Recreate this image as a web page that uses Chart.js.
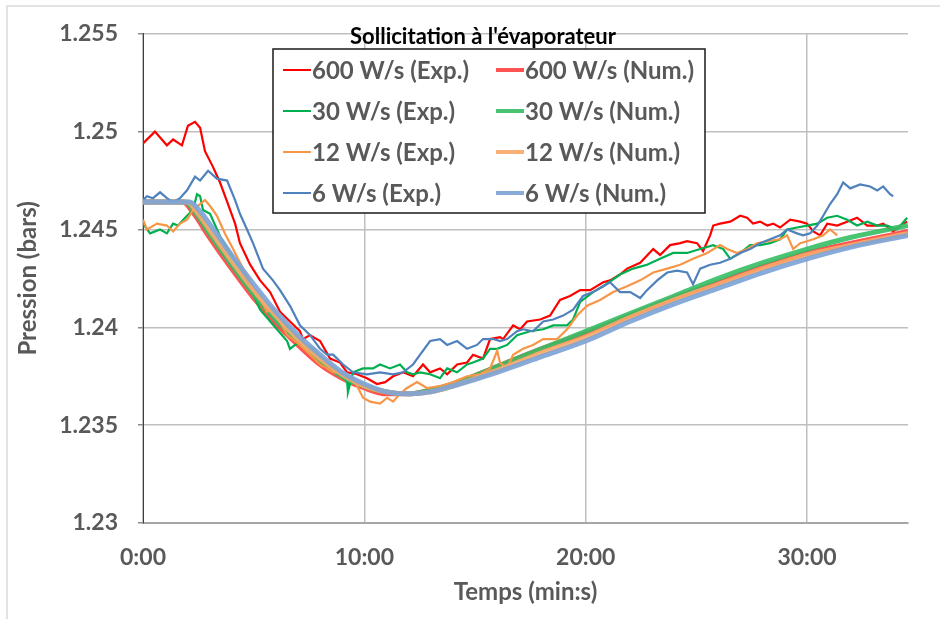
<!DOCTYPE html>
<html>
<head>
<meta charset="utf-8">
<script src="https://cdn.jsdelivr.net/npm/chart.js@4"></script>
<style>
  html, body { margin: 0; padding: 0; background: #fff; }
  .chartBox { width: 940px; height: 619px; position: relative; }
</style>
</head>
<body>
<div class="chartBox"><canvas id="chart"></canvas></div>
<script>
// temps en minutes, pression en bars
const exp600T = [0, 0.54, 1.08, 1.36, 1.76, 2.03, 2.35, 2.58, 2.80, 3.16, 3.48, 3.84, 4.16, 4.38, 4.84, 5.29, 5.74, 6.19, 6.64, 7.09, 7.23, 7.55, 8.00, 8.45, 8.90, 9.22, 9.67, 10.12, 10.57, 10.94, 11.30, 11.75, 12.20, 12.65, 12.97, 13.42, 13.74, 14.19, 14.64, 14.91, 15.36, 15.68, 16.13, 16.27, 16.72, 17.04, 17.35, 17.94, 18.39, 18.84, 19.29, 19.75, 20.20, 20.79, 21.10, 21.55, 21.87, 22.46, 23.05, 23.36, 23.81, 24.27, 24.58, 25.03, 25.30, 25.62, 25.76, 26.07, 26.53, 26.98, 27.29, 27.56, 27.88, 28.20, 28.47, 28.78, 29.24, 29.69, 30.00, 30.28, 30.59, 30.91, 31.36, 31.81, 32.26, 32.72, 33.17, 33.44, 33.89, 34.21, 34.52];
const exp600P = [1.2494, 1.2500, 1.2493, 1.2496, 1.2493, 1.2503, 1.2505, 1.2502, 1.2490, 1.2482, 1.2474, 1.2463, 1.2453, 1.2443, 1.2432, 1.2424, 1.2418, 1.2408, 1.2403, 1.2398, 1.2394, 1.2396, 1.2393, 1.2384, 1.2382, 1.2377, 1.2376, 1.2374, 1.2371, 1.2372, 1.2375, 1.2377, 1.2375, 1.2381, 1.2377, 1.2379, 1.2376, 1.2381, 1.2382, 1.2386, 1.2384, 1.2394, 1.2395, 1.2394, 1.2401, 1.2399, 1.2403, 1.2404, 1.2406, 1.2414, 1.2416, 1.2419, 1.2419, 1.2423, 1.2424, 1.2427, 1.2430, 1.2433, 1.2440, 1.2437, 1.2442, 1.2443, 1.2444, 1.2443, 1.2439, 1.2447, 1.2452, 1.2453, 1.2454, 1.2457, 1.2456, 1.2453, 1.2454, 1.2452, 1.2453, 1.2451, 1.2455, 1.2454, 1.2453, 1.2449, 1.2447, 1.2453, 1.2452, 1.2454, 1.2456, 1.2452, 1.2452, 1.2453, 1.2449, 1.2452, 1.2454];

const exp30T = [0, 0.32, 0.77, 1.08, 1.36, 1.58, 1.99, 2.26, 2.44, 2.58, 2.71, 3.03, 3.5, 4.0, 4.52, 5.29, 6.05, 6.51, 6.64, 7.09, 7.68, 8.31, 8.90, 9.22, 9.26, 9.49, 9.94, 10.39, 10.71, 11.16, 11.61, 11.93, 12.20, 12.52, 12.97, 13.42, 13.74, 14.19, 14.64, 14.91, 15.36, 15.68, 16.00, 16.45, 16.90, 17.49, 18.08, 18.53, 19.16, 19.43, 19.75, 20.33, 20.79, 21.55, 22.14, 22.77, 23.36, 23.95, 24.58, 25.17, 25.76, 26.21, 26.53, 26.66, 26.98, 27.43, 27.88, 28.33, 28.78, 29.10, 29.55, 30.00, 30.46, 30.91, 31.36, 31.81, 32.26, 32.72, 33.17, 33.62, 34.07, 34.52];
const exp30P = [1.2453, 1.2448, 1.2450, 1.2448, 1.2453, 1.2452, 1.2457, 1.2460, 1.2468, 1.2467, 1.2460, 1.2458, 1.2446, 1.2437, 1.2428, 1.2409, 1.2399, 1.2393, 1.2389, 1.2393, 1.2389, 1.2382, 1.2377, 1.2372, 1.2367, 1.2377, 1.2379, 1.2379, 1.2381, 1.2379, 1.2381, 1.2377, 1.2376, 1.2377, 1.2376, 1.2374, 1.2379, 1.2377, 1.2381, 1.2382, 1.2384, 1.2389, 1.2389, 1.2391, 1.2396, 1.2398, 1.2399, 1.2401, 1.2401, 1.2404, 1.2413, 1.2418, 1.2421, 1.2427, 1.2430, 1.2432, 1.2435, 1.2438, 1.2438, 1.2440, 1.2442, 1.2440, 1.2435, 1.2436, 1.2438, 1.2442, 1.2442, 1.2443, 1.2445, 1.2450, 1.2451, 1.2452, 1.2453, 1.2456, 1.2457, 1.2455, 1.2452, 1.2454, 1.2452, 1.2452, 1.2450, 1.2456];

const exp12T = [0, 0.18, 0.63, 1.08, 1.36, 1.67, 1.99, 2.26, 2.58, 2.80, 3.03, 3.34, 3.7, 4.07, 4.52, 4.97, 5.42, 5.60, 5.87, 6.51, 7.09, 7.55, 8.00, 8.31, 8.59, 8.90, 9.49, 9.94, 10.26, 10.71, 11.03, 11.30, 11.61, 11.93, 12.38, 12.83, 13.42, 14.01, 14.64, 15.23, 15.68, 16.00, 16.13, 16.45, 16.72, 17.17, 17.62, 18.08, 18.71, 19.16, 19.61, 20.06, 20.65, 21.24, 21.87, 22.46, 23.05, 23.68, 24.27, 24.85, 25.49, 26.07, 26.39, 26.84, 27.29, 27.74, 28.20, 28.78, 29.10, 29.37, 29.69, 30.00, 30.28, 30.73, 31.04, 31.36];
const exp12P = [1.2455, 1.2450, 1.2453, 1.2452, 1.2449, 1.2453, 1.2455, 1.2460, 1.2463, 1.2465, 1.2462, 1.2457, 1.2448, 1.2440, 1.2430, 1.2421, 1.2412, 1.2408, 1.2410, 1.2396, 1.2391, 1.2386, 1.2381, 1.2379, 1.2377, 1.2377, 1.2374, 1.2364, 1.2362, 1.2361, 1.2364, 1.2362, 1.2366, 1.2369, 1.2372, 1.2369, 1.2370, 1.2372, 1.2375, 1.2376, 1.2379, 1.2388, 1.2382, 1.2379, 1.2386, 1.2389, 1.2391, 1.2394, 1.2394, 1.2399, 1.2406, 1.2411, 1.2414, 1.2418, 1.2421, 1.2424, 1.2428, 1.2430, 1.2432, 1.2435, 1.2438, 1.2442, 1.2440, 1.2438, 1.2440, 1.2443, 1.2444, 1.2445, 1.2447, 1.2440, 1.2443, 1.2444, 1.2445, 1.2447, 1.2450, 1.2447];

const exp6T = [0, 0.18, 0.45, 0.77, 1.08, 1.36, 1.67, 1.99, 2.35, 2.58, 2.94, 3.34, 3.80, 4.16, 4.38, 4.70, 4.97, 5.42, 5.87, 6.19, 6.64, 7.09, 7.55, 8.00, 8.31, 8.59, 9.04, 9.49, 10.12, 10.71, 11.30, 11.75, 12.20, 12.52, 12.97, 13.42, 13.74, 14.19, 14.64, 15.09, 15.36, 15.82, 16.13, 16.45, 16.90, 17.17, 17.62, 18.08, 18.53, 18.98, 19.43, 19.88, 20.33, 20.79, 21.10, 21.55, 22.01, 22.46, 22.77, 23.23, 23.68, 24.13, 24.58, 24.85, 25.17, 25.62, 26.07, 26.53, 26.98, 27.43, 27.88, 28.33, 28.78, 29.10, 29.55, 29.82, 30.14, 30.46, 30.73, 31.04, 31.36, 31.63, 31.95, 32.40, 32.85, 33.17, 33.44, 33.75, 33.89];
const exp6P = [1.2465, 1.2467, 1.2466, 1.2469, 1.2466, 1.2464, 1.2466, 1.2470, 1.2477, 1.2475, 1.2480, 1.2476, 1.2475, 1.2465, 1.2458, 1.2450, 1.2443, 1.2430, 1.2424, 1.2419, 1.2411, 1.2401, 1.2396, 1.2389, 1.2386, 1.2386, 1.2381, 1.2377, 1.2376, 1.2377, 1.2376, 1.2377, 1.2381, 1.2386, 1.2393, 1.2394, 1.2391, 1.2393, 1.2389, 1.2391, 1.2394, 1.2394, 1.2393, 1.2394, 1.2398, 1.2399, 1.2398, 1.2403, 1.2404, 1.2406, 1.2409, 1.2416, 1.2418, 1.2421, 1.2423, 1.2418, 1.2418, 1.2415, 1.2419, 1.2424, 1.2428, 1.2429, 1.2428, 1.2422, 1.2430, 1.2432, 1.2433, 1.2435, 1.2438, 1.2440, 1.2443, 1.2445, 1.2447, 1.2450, 1.2448, 1.2447, 1.2448, 1.2452, 1.2457, 1.2463, 1.2468, 1.2474, 1.2471, 1.2473, 1.2472, 1.2470, 1.2472, 1.2468, 1.2467];

const numT600 = [0, 1.8, 2.3, 3, 4, 5, 6, 7, 8, 9, 10, 11, 12, 13, 14, 16, 18, 20, 22, 24, 26, 28, 30, 32, 34.56];
const num600P = [1.2464, 1.2464, 1.2458, 1.2446, 1.2430, 1.2415, 1.2402, 1.2391, 1.2381, 1.2374, 1.2369, 1.2366, 1.2366, 1.2368, 1.2371, 1.2380, 1.2389, 1.2397, 1.2406, 1.2415, 1.2423, 1.2431, 1.2438, 1.2443, 1.2449];
const numT30 = [0, 1.9, 2.4, 3, 4, 5, 6, 7, 8, 9, 10, 11, 12, 13, 14, 16, 18, 20, 22, 24, 26, 28, 30, 32, 34.56];
const num30P = [1.2464, 1.2464, 1.2458, 1.2448, 1.2432, 1.2417, 1.2404, 1.2393, 1.2383, 1.2375, 1.2370, 1.2367, 1.2366, 1.2368, 1.2371, 1.2380, 1.2389, 1.2398, 1.2407, 1.2416, 1.2425, 1.2433, 1.2440, 1.2446, 1.2452];
const numT12 = [0, 2.0, 2.5, 3, 4, 5, 6, 7, 8, 9, 10, 11, 12, 13, 14, 16, 18, 20, 22, 24, 26, 28, 30, 32, 34.56];
const num12P = [1.2464, 1.2464, 1.2458, 1.2450, 1.2434, 1.2419, 1.2406, 1.2394, 1.2384, 1.2376, 1.2370, 1.2367, 1.2366, 1.2367, 1.2370, 1.2378, 1.2387, 1.2395, 1.2405, 1.2414, 1.2422, 1.2430, 1.2437, 1.2442, 1.2448];
const numT6 = [0, 2.1, 2.6, 3, 4, 5, 6, 7, 8, 9, 10, 11, 12, 13, 14, 16, 18, 20, 22, 24, 26, 28, 30, 32, 34.56];
const num6P = [1.2464, 1.2464, 1.2459, 1.2453, 1.2437, 1.2422, 1.2408, 1.2396, 1.2386, 1.2377, 1.2371, 1.2367, 1.2366, 1.2367, 1.2370, 1.2377, 1.2385, 1.2393, 1.2403, 1.2412, 1.2420, 1.2428, 1.2435, 1.2441, 1.2447];

const seriesLabels = ['600 W/s (Exp.)', '600 W/s (Num.)', '30 W/s (Exp.)', '30 W/s (Num.)', '12 W/s (Exp.)', '12 W/s (Num.)', '6 W/s (Exp.)', '6 W/s (Num.)'];
const legendTitle = "Sollicitation à l'évaporateur";
const xTicks = [0, 10, 20, 30];

const pts = (t, p) => t.map((x, i) => ({ x: x, y: p[i] }));

const series = [
	[exp600T, exp600P, '#FF0000', false],
	[numT600, num600P, 'rgba(255,64,64,0.9)', true],
	[exp30T, exp30P, '#00B050', false],
	[numT30, num30P, 'rgba(52,190,100,0.9)', true],
	[exp12T, exp12P, '#F79646', false],
	[numT12, num12P, 'rgba(249,168,104,0.9)', true],
	[exp6T, exp6P, '#4F81BD', false],
	[numT6, num6P, 'rgba(126,164,214,0.92)', true],
];

const datasets = series.map((s, i) => ({
	label: seriesLabels[i],
	data: pts(s[0], s[1]),
	borderColor: s[2],
	backgroundColor: s[2],
	borderWidth: s[3] ? 5 : 2.2,
	pointRadius: 0,
	cubicInterpolationMode: s[3] ? 'monotone' : 'default',
	tension: 0,
	order: series.length - i, // le dernier est dessiné au-dessus
	isNum: s[3],
}));

const labelGray = '#595959';
const mainFont = 'Lato, "Liberation Sans", sans-serif';

// cadre extérieur + fond blanc
const frame = {
	id: 'frame',
	beforeDraw(chart) {
		const ctx = chart.ctx;
		ctx.save();
		ctx.fillStyle = '#fff';
		ctx.fillRect(0, 0, chart.width, chart.height);
		ctx.strokeStyle = '#D9D9D9';
		ctx.lineWidth = 1.5;
		ctx.strokeRect(7, 6, chart.width, chart.height);
		ctx.restore();
	}
};

// légende encadrée dans la zone du graphique
const boxLegend = {
	id: 'boxLegend',
	afterDraw(chart) {
		const ctx = chart.ctx;
		const x0 = 273, y0 = 49, w = 432, h = 164;
		ctx.save();
		ctx.fillStyle = '#fff';
		ctx.fillRect(x0, y0, w, h);
		ctx.strokeStyle = '#1a1a1a';
		ctx.lineWidth = 1.5;
		ctx.strokeRect(x0, y0, w, h);

		ctx.fillStyle = '#000';
		ctx.font = 'bold 22px ' + mainFont;
		ctx.textAlign = 'center';
		ctx.textBaseline = 'middle';
		ctx.fillText(legendTitle, 483, 37);

		ctx.font = 'bold 24px ' + mainFont;
		ctx.textAlign = 'left';
		chart.data.datasets.forEach((ds, i) => {
			const row = Math.floor(i / 2), col = i % 2;
			const y = 70 + row * 41;
			const lx = col === 0 ? 283 : 496;
			ctx.strokeStyle = ds.borderColor;
			ctx.lineWidth = ds.isNum ? 4 : 2;
			ctx.beginPath();
			ctx.moveTo(lx, y);
			ctx.lineTo(lx + 28, y);
			ctx.stroke();
			ctx.fillStyle = labelGray;
			ctx.fillText(ds.label, lx + 29, y + 1);
		});
		ctx.restore();
	}
};

new Chart(document.getElementById('chart').getContext('2d'), {
	type: 'line',
	data: { datasets: datasets },
	options: {
		responsive: true,
		maintainAspectRatio: false,
		animation: false,
		layout: { padding: { left: 0, top: 29, right: 32, bottom: 0 } },
		plugins: {
			legend: { display: false },
			tooltip: { enabled: false },
		},
		scales: {
			x: {
				type: 'linear',
				min: 0,
				max: 34.56,
				afterFit: (scale) => { scale.height = 96; },
				afterBuildTicks: (scale) => { scale.ticks = xTicks.map(v => ({ value: v })); },
				ticks: {
					includeBounds: false,
					padding: 21,
					color: labelGray,
					font: { family: mainFont, size: 23, weight: 'bold' },
					callback: (v) => v + ':00',
				},
				grid: { color: '#BFBFBF', lineWidth: 1.5, drawTicks: false },
				border: { color: '#A6A6A6', width: 2 },
				title: {
					display: true,
					text: 'Temps (min:s)',
					color: labelGray,
					font: { family: mainFont, size: 24, weight: 'bold' },
					padding: { top: 0, bottom: 12 },
				},
			},
			y: {
				min: 1.23,
				max: 1.255,
				afterFit: (scale) => { scale.width = 143; },
				ticks: {
					stepSize: 0.005,
					padding: 20,
					color: labelGray,
					font: { family: mainFont, size: 23, weight: 'bold' },
					callback: (v) => String(Number(v.toFixed(3))),
				},
				grid: { color: '#BFBFBF', lineWidth: 1.5, tickLength: 5, tickColor: '#8C8C8C' },
				border: { color: '#404040', width: 1 },
				title: {
					display: true,
					text: 'Pression (bars)',
					color: labelGray,
					font: { family: mainFont, size: 24, weight: 'bold' },
					padding: { top: 14, bottom: 0 },
				},
			},
		},
	},
	plugins: [frame, boxLegend],
});
</script>
</body>
</html>
